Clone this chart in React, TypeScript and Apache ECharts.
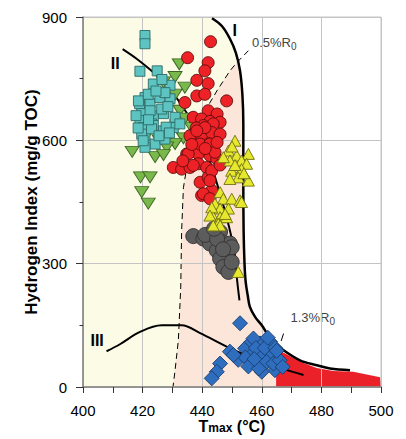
import React, { useEffect, useRef } from 'react';
import * as echarts from 'echarts';

const FONT = 'Liberation Sans, Arial, sans-serif';

// Axis settings
const xMin = 400, xMax = 500, xStep = 20;
const yMin = 0, yMax = 900, yStep = 300;

// Boundary curves (Tmax °C, HI)
const curveI: number[][] = [[443.3,897],[446.6,878],[449.3,847],[451.3,813],[452.7,769],[453.5,710],[453.8,640],[453.8,500],[453.9,380],[454.2,300],[454.6,255],[455.3,222],[456,195],[457.8,170],[460,150],[463.3,114],[467.2,90],[472.8,65],[478.4,53],[482.9,45],[489.6,41]];
const curveII: number[][] = [[413.3,822],[418.1,798],[423,769],[428,735],[432,697],[437,640],[442,560],[446,470],[449,390],[451,320],[451.6,268],[452.5,211]];
const curveIII: number[][] = [[407.9,87],[412.4,104],[419.1,134],[426.4,150],[433.1,150],[439.3,131],[448.2,98],[454.4,78],[460,62],[467.2,44],[474,29]];
const ro05: number[][] = [[455.5,818],[451.6,789],[449.3,769],[444.9,720],[441,672],[437.6,611],[435.2,551],[433.7,485],[433.1,381],[432.8,243],[432,114],[430.9,41],[430.2,0]];
const ro13: number[][] = [[466.5,112],[467.3,130]];
const redZoneTop: number[][] = [[464.8,98],[467.2,84],[472.8,62],[478.4,46],[484,39],[490.7,37],[499.7,23.5]];
const pinkRightT = 464.8;

// Samples
const cyanSquares: number[][] = [[420.8,855],[420.8,835],[419.1,768],[424.9,769],[423.6,737],[429.2,734],[426.5,748],[420.8,704],[419,689],[422.5,689],[425.8,704],[429.2,701],[418.6,696],[421.9,712],[427.5,716],[419.7,665],[423.6,660],[427,665],[419.1,648],[423,640],[430.9,640],[422.5,672],[426.4,676],[430.9,656],[417.8,660],[420.2,631],[423.6,636],[427,623],[430.3,631],[420.8,611],[424.2,591],[420.8,583],[427.5,603],[432.5,640],[419.7,615],[423,628],[427.9,632],[420.2,599],[425.5,611],[429,618],[418.5,630],[422,650],[428.5,682],[424.5,720]];
const greenTriangles: number[][] = [[432.3,785],[430.9,754],[434.2,728],[427,741],[430.9,711],[432.5,672],[434.2,653],[436.4,631],[433.7,605],[430.9,591],[428.1,583],[429.2,616],[424.2,559],[427,564],[416.5,572],[419.3,510],[422.5,510],[419.7,474],[421.9,446],[425.5,600],[422,620]];
const redCircles: number[][] = [[442.8,840],[435.1,801],[442,789],[440.9,769],[438.2,746],[442,738],[438.2,708],[440.9,712],[434.2,692],[448.2,696],[442,672],[445,664],[437,656],[439.8,652],[442.6,646],[446,644],[440.4,636],[443.7,640],[437,615],[439.8,611],[443.2,619],[446,615],[435.9,611],[438,630],[434.8,567],[430.3,534],[433.1,530],[435.9,534],[438.7,567],[442,591],[442.6,563],[444.9,555],[438.7,543],[441.5,534],[439.3,498],[442,510],[439.8,466],[443.2,478],[435.3,567],[439.3,591],[442.6,591],[444.3,571],[437,539],[443.2,526],[442.6,502],[440.4,470],[442.6,458],[436.5,590],[441,580],[445,595],[433.5,550],[446,540],[440.9,631],[438.2,623]];
const yellowTriangles: number[][] = [[451,599],[448.8,575],[455.5,567],[451.6,563],[449.3,551],[453.2,551],[454.9,543],[449.9,526],[453.2,530],[452.1,510],[455.5,502],[449.3,506],[446,474],[447.1,458],[449.9,458],[452.7,454],[444.3,446],[446,434],[448.8,434],[443.2,421],[446,413],[448.2,413],[444.9,397],[443.2,437],[447.7,421],[442.6,417],[445.4,397],[452.1,280],[453.2,450],[446,393],[443.7,393],[450,585],[447.1,559],[451,540],[454,520]];
const grayCircles: number[][] = [[437,367],[440.4,361],[443.2,373],[446,377],[442.6,349],[446.5,353],[449.3,349],[444.9,332],[448.2,320],[446,312],[447.1,292],[448.8,280],[449.9,304],[449.9,340],[441,370],[445,360],[447,335],[444,385]];
const blueDiamonds: number[][] = [[452.7,155],[449.3,86],[452.1,66],[454.4,94],[456.6,110],[459.4,106],[462.8,110],[456.6,78],[460,82],[463.3,82],[458.3,57],[461.6,61],[464.4,41],[460,37],[446,57],[444.9,37],[443.2,21],[457.2,118],[454.5,72],[458,95],[461,95],[463.9,57],[464.5,95],[466,65],[455.5,50],[459,45],[450.5,78],[462,120],[457.5,68],[467,49],[465,88]];

// Annotation texts and anchors
const labels: { text: string; at: number[]; bold: boolean }[] = [
  { text: 'I', at: [450.2, 866], bold: true },
  { text: 'II', at: [409.3, 787], bold: true },
  { text: 'III', at: [402.5, 114], bold: true },
  { text: '{a|0.5%R}{b|0}', at: [456.7, 839], bold: false },
  { text: '{a|1.3%R}{b|0}', at: [469.6, 170], bold: false },
];

function scatter(data: number[][], symbol: string, size: any, fill: string, border: string, rotate = 0) {
  return {
    type: 'scatter',
    data,
    symbol,
    symbolSize: size,
    symbolRotate: rotate,
    z: 3,
    itemStyle: { color: fill, borderColor: border, borderWidth: 0.9, opacity: 1 },
    emphasis: { disabled: true },
  };
}

export default function App() {
  const ref = useRef<HTMLDivElement>(null);
  useEffect(() => {
    document.body.style.margin = '0';
    const chart = echarts.init(ref.current!, null, { renderer: 'svg', width: 406, height: 439 });
    const upperI = curveI.filter((p) => p[0] <= pinkRightT);
    const option: any = {
      animation: false,
      textStyle: { fontFamily: FONT },
      grid: { left: 83, right: 25, top: 17, bottom: 52, show: true, borderColor: '#c4c4c4', borderWidth: 1, containLabel: false, outerBoundsMode: 'none' },
      xAxis: {
        type: 'value', min: xMin, max: xMax, interval: xStep,
        name: 'T{sub|max} (°C)', nameLocation: 'middle', nameGap: 31, nameMoveOverlap: false,
        nameTextStyle: { fontSize: 16, fontWeight: 'bold', color: '#000', fontFamily: FONT, lineHeight: 16,
          rich: { sub: { fontSize: 12, fontWeight: 'bold', color: '#000', fontFamily: FONT, lineHeight: 5, verticalAlign: 'bottom' } } },
        axisLine: { show: true, lineStyle: { color: '#808080', width: 1.5 } },
        axisTick: { show: true, length: 6, lineStyle: { color: '#333' } },
        minorTick: { show: true, splitNumber: 2, length: 6, lineStyle: { color: '#333' } },
        axisLabel: { fontSize: 15, lineHeight: 15, color: '#000', margin: 16, fontFamily: FONT },
        splitLine: { show: true, lineStyle: { color: '#c4c4c4', width: 1 } },
      },
      yAxis: {
        type: 'value', min: yMin, max: yMax, interval: yStep,
        name: 'Hydrogen Index (mg/g TOC)', nameLocation: 'middle', nameGap: 43, nameMoveOverlap: false,
        nameTextStyle: { fontSize: 17, fontWeight: 'bold', color: '#000', fontFamily: FONT },
        axisLine: { show: true, lineStyle: { color: '#808080', width: 1.5 } },
        axisTick: { show: true, length: 7, lineStyle: { color: '#333' } },
        minorTick: { show: true, splitNumber: 2, length: 3.5, lineStyle: { color: '#333' } },
        axisLabel: { fontSize: 15, color: '#000', margin: 16, fontFamily: FONT },
        splitLine: { show: true, lineStyle: { color: '#c4c4c4', width: 1 } },
      },
      series: [
        {
          type: 'custom',
          z: -1,
          silent: true,
          data: [[xMin, yMin]],
          renderItem: (params: any, api: any) => {
            const c = (p: number[]) => api.coord(p);
            const yellowPts = [[xMin, yMin], [xMin, yMax], [curveI[0][0], yMax], ...upperI, [pinkRightT, 104], [pinkRightT, yMin]].map(c);
            const iBelow = upperI.filter((p) => p[1] <= 790);
            const pinkPts = [
              ...ro05.filter((p) => p[1] <= 790),
              [pinkRightT, yMin], [pinkRightT, 104],
              ...iBelow.slice().reverse(),
            ].map(c);
            const redPts = [[pinkRightT, yMin], ...redZoneTop, [xMax, yMin]].map(c);
            const children: any[] = [
              { type: 'polygon', shape: { points: yellowPts }, style: { fill: '#fbfbe6' } },
              { type: 'polygon', shape: { points: pinkPts }, style: { fill: '#fbe6d9' } },
              { type: 'polygon', shape: { points: redPts }, style: { fill: '#ea2129' } },
              { type: 'polyline', shape: { points: ro05.map(c) }, style: { stroke: '#000', lineWidth: 1, lineDash: [6, 4], fill: null } },
              { type: 'polyline', shape: { points: ro13.map(c) }, style: { stroke: '#000', lineWidth: 1, fill: null } },
            ];
            labels.forEach((l) => {
              const p = c(l.at);
              children.push({
                type: 'text', x: p[0], y: p[1],
                style: l.bold
                  ? { text: l.text, fontSize: 16, fontWeight: 'bold', fontFamily: FONT, fill: '#000', align: 'left', verticalAlign: 'middle' }
                  : {
                      text: l.text, fill: '#444', align: 'left', verticalAlign: 'middle', fontFamily: FONT,
                      rich: {
                        a: { fontSize: 13, lineHeight: 18, fontFamily: FONT, fill: '#444' },
                        b: { fontSize: 10, lineHeight: 10, verticalAlign: 'bottom', fontFamily: FONT, fill: '#444' },
                      },
                    },
              });
            });
            return { type: 'group', children };
          },
        },
        { type: 'line', data: curveI, smooth: 0.35, symbol: 'none', z: 2, lineStyle: { color: '#000', width: 2.5 } },
        { type: 'line', data: curveII, smooth: 0.35, symbol: 'none', z: 2, lineStyle: { color: '#000', width: 2 } },
        { type: 'line', data: curveIII, smooth: 0.35, symbol: 'none', z: 2, lineStyle: { color: '#000', width: 2 } },
        scatter(greenTriangles, 'triangle', [14, 11], '#79b84a', '#3d6626', 180),
        scatter(cyanSquares, 'rect', 10, '#5ec4c1', '#2c6b69'),
        scatter(redCircles, 'circle', 12, '#ec2227', '#5e0b0b'),
        scatter(grayCircles, 'circle', 15, '#5c5c5c', '#333333'),
        scatter(yellowTriangles, 'triangle', [12, 11], '#e6e82f', '#6f6f12'),
        scatter(blueDiamonds, 'diamond', 15, '#2f6ebf', '#1b3d6b'),
      ],
    };
    chart.setOption(option);
    return () => chart.dispose();
  }, []);
  return <div ref={ref} style={{ position: 'absolute', left: 0, top: 0, width: 406, height: 439 }} />;
}
